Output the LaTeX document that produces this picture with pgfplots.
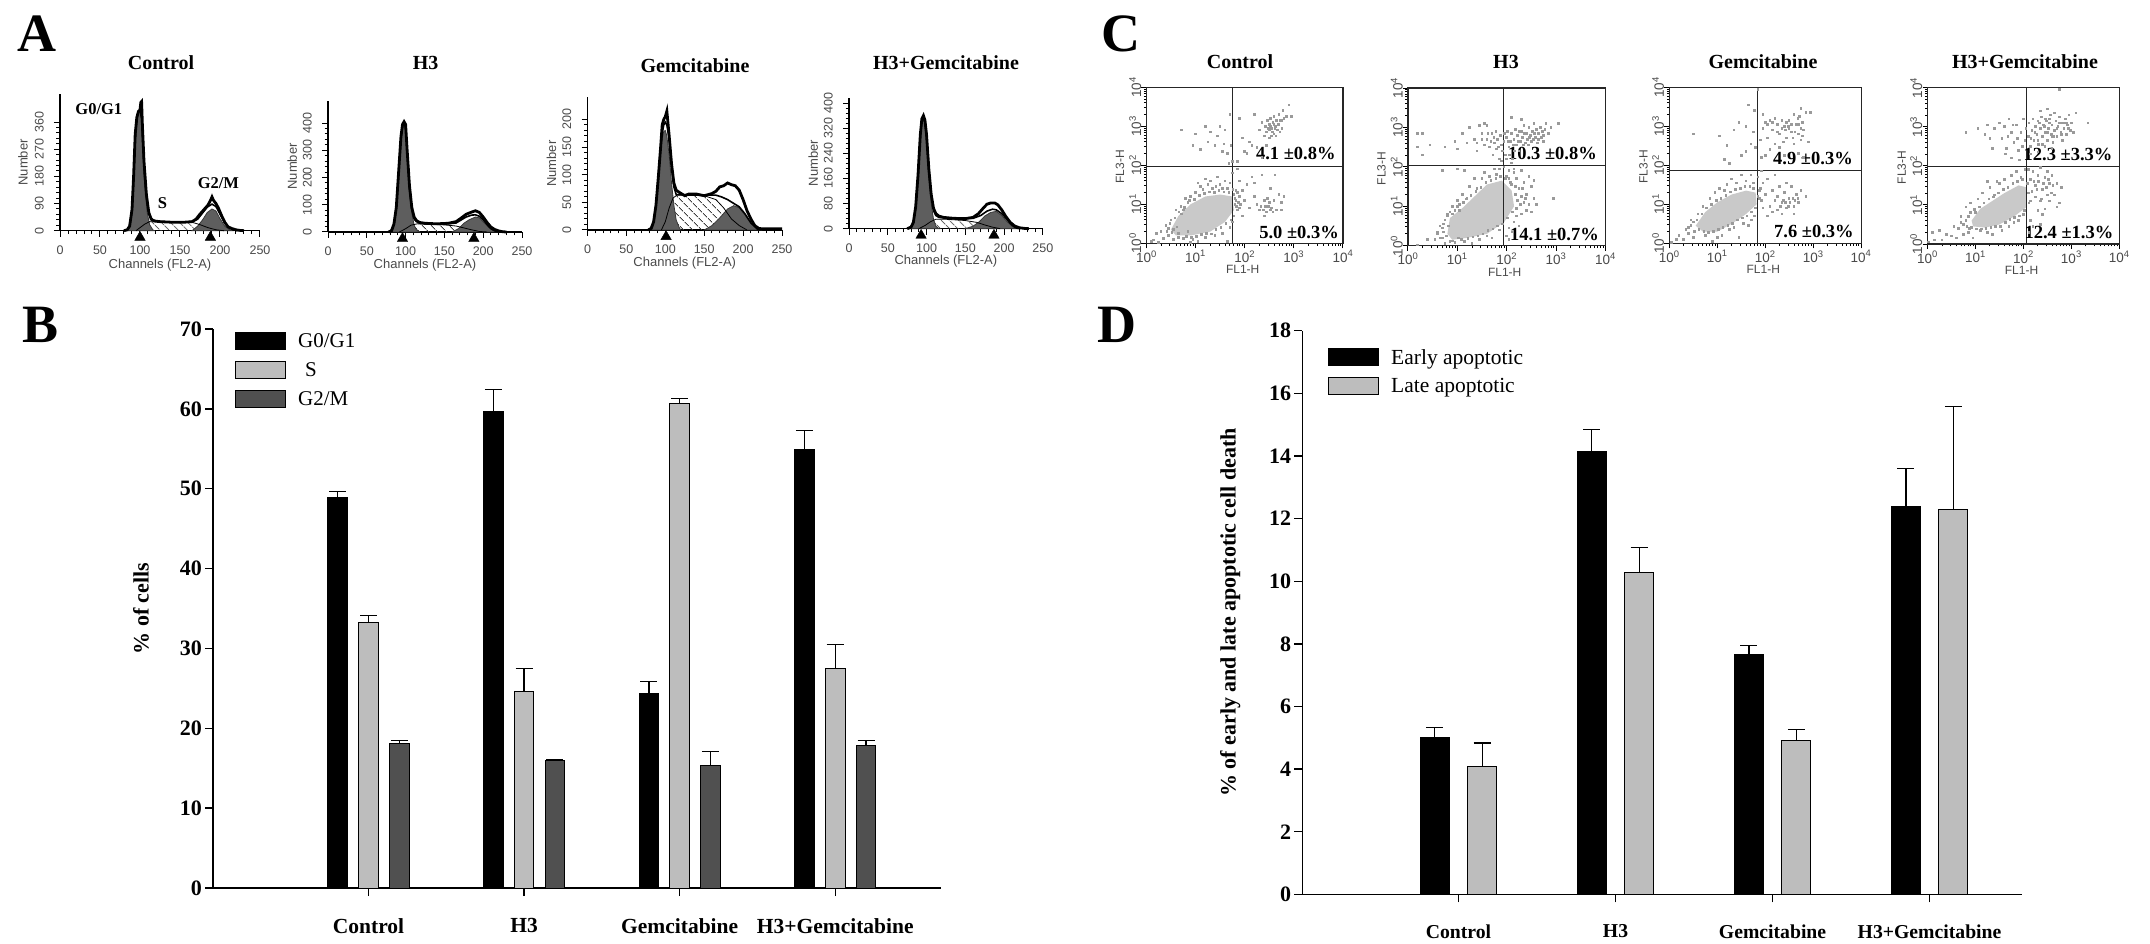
\documentclass[border=0pt]{standalone}
\usepackage{pgfplots}
\usepackage{pgfplotstable}
\pgfplotsset{compat=1.18}
\usepackage{fontspec}
\usetikzlibrary{patterns.meta}
\setmainfont{Liberation Serif}
\newfontfamily\sansf{Liberation Sans}
\newcommand\fs[1]{\fontsize{#1}{#1}\selectfont}
\definecolor{hfill}{HTML}{5E5E5E}
\definecolor{lab}{HTML}{4A4A4A}
\definecolor{barS}{HTML}{BDBDBD}
\definecolor{barG}{HTML}{505050}
\definecolor{dots}{HTML}{9A9A9A}
\definecolor{cloud}{HTML}{C9C9C9}

\pgfplotstableread{
x g1 g1e s se g2 g2e
1 48.86 0.79 33.3 0.85 18.1 0.35
2 59.7 2.75 24.6 2.9 16.0 0.1
3 24.3 1.55 60.65 0.65 15.3 1.8
4 54.9 2.4 27.45 3.0 17.8 0.7
}\tabB
\pgfplotstableread{
x e ee l le
1 5.02 0.32 4.07 0.76
2 14.13 0.71 10.29 0.79
3 7.66 0.29 4.93 0.33
4 12.38 1.22 12.28 3.29
}\tabD

\pgfplotsset{
 swatch/.style={legend image code/.code={\draw[##1] (0pt,-8.5pt) rectangle (50pt,8.5pt);}},
 barfig/.style={
  scale only axis, ymin=0, axis lines=left, axis line style={-,line width=1.3pt},
  tick align=outside, major tick length=8pt, tick style={line width=1.3pt,black},
  xtick={1,2,3,4}, xticklabels={Control,H3,Gemcitabine,H3+Gemcitabine},
  /pgf/number format/assume math mode=true,
  yticklabel style={font=\bfseries\fs{22},inner sep=0pt,xshift=-3pt},
  ybar, clip=false,
  legend cell align=left,
 },
 ebar/.style={error bars/.cd, y dir=plus, y explicit, error bar style={line width=1.3pt,black}, error mark options={line width=1.3pt,black,mark size=8.5pt,rotate=90}},
 histA/.style={
  scale only axis, xmin=0, xmax=250, ymin=0, axis lines=left, axis line style={-,line width=1.2pt},
  tick align=outside, major tick length=6pt, minor tick length=3.5pt, tick style={line width=1pt,black},
  xtick={0,50,...,250}, minor x tick num=4, minor y tick num=4, clip=false,
  /pgf/number format/assume math mode=true,
  ticklabel style={font=\sansf\fs{12.5},text=lab},
  xticklabel style={inner sep=0pt,yshift=-9pt},
  yticklabel style={rotate=90,anchor=south,inner sep=0pt,yshift=10pt},
  every axis x label/.style={at={(axis description cs:0.5,-0.25)},anchor=center},
  every axis y label/.style={at={(axis description cs:-0.185,0.5)},anchor=center,rotate=90},
  label style={font=\sansf\fs{13},text=lab},
  xlabel={Channels (FL2-A)}, ylabel={Number},
 },
 gG/.style={fill=hfill,draw=hfill!60!black,line width=0.8pt},
 gS/.style={pattern={Lines[angle=-45,distance=6.5pt,line width=1pt,xshift=1pt]},pattern color=black!75,draw=none},
 gL/.style={black,line width=0.8pt,no markers},
 gD/.style={black,line width=2.8pt,no markers},
 gF/.style={black,line width=1.6pt,no markers},
 flowC/.style={
  scale only axis, xmin=0,xmax=4,ymin=0,ymax=4, axis line style={line width=1.2pt,black!85},
  xtick pos=bottom, ytick pos=left, tick align=outside,
  major tick length=5pt, minor tick length=2.5pt, tick style={line width=0.9pt,black},
  xtick={0,1,2,3,4}, ytick={0,1,2,3,4},
  xticklabels={10\textsuperscript{0},10\textsuperscript{1},10\textsuperscript{2},10\textsuperscript{3},10\textsuperscript{4}},
  yticklabels={10\textsuperscript{0},10\textsuperscript{1},10\textsuperscript{2},10\textsuperscript{3},10\textsuperscript{4}},
  minor xtick={.301,.477,.602,.699,.778,.845,.903,.954,1.301,1.477,1.602,1.699,1.778,1.845,1.903,1.954,2.301,2.477,2.602,2.699,2.778,2.845,2.903,2.954,3.301,3.477,3.602,3.699,3.778,3.845,3.903,3.954},
  minor ytick={.301,.477,.602,.699,.778,.845,.903,.954,1.301,1.477,1.602,1.699,1.778,1.845,1.903,1.954,2.301,2.477,2.602,2.699,2.778,2.845,2.903,2.954,3.301,3.477,3.602,3.699,3.778,3.845,3.903,3.954},
  ticklabel style={font=\sansf\fs{13.5},text=lab},
  xticklabel style={inner sep=0pt,yshift=-2pt},
  yticklabel style={rotate=90,anchor=south,inner sep=0pt},
  every axis x label/.style={at={(axis description cs:0.49,-0.168)},anchor=center},
  every axis y label/.style={at={(axis description cs:-0.134,0.49)},anchor=center,rotate=90},
  label style={font=\sansf\fs{12},text=lab},
  xlabel={FL1-H}, ylabel={FL3-H},
 },
 cl/.style={fill=cloud,draw=none,no markers},
 pts/.style={only marks,color=dots,mark=square*,mark size=0.8pt,mark options={draw=dots,fill=dots,line width=0pt}},
 gate/.style={black!85,line width=1.1pt,no markers},
}
\newcommand\tnote[3]{\node[anchor=east,inner sep=0pt,font=\bfseries\fs{18.5}] at (axis cs:#1,#2) {#3};}

\begin{document}
\begin{tikzpicture}[x=1pt,y=1pt]
\fill[white,use as bounding box] (0,0) rectangle (2150,943);

% panel letters
\foreach \l/\x/\y in {A/17/891,B/22/600,C/1101/891,D/1097/600}{
 \node[anchor=base west,inner sep=0pt,font=\bfseries\fs{54}] at (\x,\y) {\l};
}
% titles
\foreach \t/\x/\y in {Control/161/880,H3/425.7/880,Gemcitabine/695/877.5,H3+Gemcitabine/946/880,Control/1240/881,H3/1506/881,Gemcitabine/1763/881,H3+Gemcitabine/2025/881}{
 \node[anchor=center,inner sep=0pt,font=\bfseries\fs{20}] at (\x,\y) {\t};
}

% ---------- A
\begin{axis}[histA,at={(60pt,712.3pt)},width=200pt,height=136.4pt,ymax=452,ytick={0,90,180,270,360}]
\addplot[gS] coordinates {(95,0)(100,10)(106,22)(112,30)(165,28)(175,20)(185,10)(195,3)(205,0)} \closedcycle;
\addplot[gG] coordinates {(83,0)(87,13)(90,62)(92,170)(94,305)(96,372)(98,395)(100,398)(102,370)(104,255)(106,150)(109,60)(112,20)(116,3)(118,0)} \closedcycle;
\addplot[gG] coordinates {(165,0)(172,15)(178,35)(184,60)(190,72)(195,65)(200,40)(206,15)(212,3)(215,0)} \closedcycle;
\addplot[gL] coordinates {(95,0)(100,10)(106,22)(112,30)(165,28)(175,20)(185,10)(195,3)(205,0)};
\addplot[gF] coordinates {(80,0)(84,3)(87,14)(90,65)(92,170)(94,305)(96,372)(98,395)(100,398)(102,372)(104,265)(106,170)(109,90)(112,50)(116,35)(125,30)(150,28)(165,30)(172,38)(178,58)(184,78)(190,88)(195,80)(200,55)(206,25)(212,8)(218,2)(222,0)};
\addplot[gD] coordinates {(80,0)(84,3)(87,15)(90,70)(92,180)(94,320)(96,375)(98,395)(100,400)(101,425)(102,428)(103,350)(105,230)(108,120)(111,60)(114,38)(118,32)(125,30)(140,28)(155,28)(165,30)(170,38)(175,55)(180,70)(185,85)(188,100)(190,112)(192,100)(195,90)(198,75)(202,50)(206,28)(210,13)(215,7)(220,3)(225,1)(230,0)};
\addplot[only marks,mark=triangle*,mark size=6pt,black] coordinates {(100,-22)(188,-22)};
\node[font=\bfseries\fs{16.5},inner sep=0pt] at (axis cs:48.5,403) {G0/G1};
\node[font=\bfseries\fs{16.5},inner sep=0pt] at (axis cs:128,91) {S};
\node[font=\bfseries\fs{16.5},inner sep=0pt] at (axis cs:198,158) {G2/M};
\end{axis}

\begin{axis}[histA,at={(328pt,711pt)},width=194pt,height=131pt,ymax=481,ytick={0,100,200,300,400}]
\addplot[gS] coordinates {(92,0)(100,12)(107,25)(115,30)(150,26)(165,22)(175,15)(185,8)(195,2)(205,0)} \closedcycle;
\addplot[gG] coordinates {(80,0)(85,25)(88,85)(91,210)(94,340)(96,380)(98,390)(100,375)(102,285)(105,150)(108,70)(111,25)(114,8)(118,0)} \closedcycle;
\addplot[gG] coordinates {(160,0)(168,12)(175,32)(182,45)(190,55)(195,52)(200,38)(206,20)(212,7)(218,0)} \closedcycle;
\addplot[gL] coordinates {(92,0)(100,12)(107,25)(115,30)(150,26)(165,22)(175,15)(185,8)(195,2)(205,0)};
\addplot[gF] coordinates {(80,0)(85,26)(88,88)(91,215)(94,345)(96,388)(98,398)(100,385)(102,295)(105,160)(108,85)(111,48)(114,38)(125,30)(150,29)(165,33)(172,45)(178,55)(185,62)(190,63)(195,58)(200,45)(205,27)(210,12)(215,4)(220,0)};
\addplot[gD] coordinates {(78,0)(82,5)(85,30)(88,90)(91,220)(94,350)(96,395)(98,405)(100,395)(102,300)(105,170)(108,90)(111,55)(114,42)(118,35)(125,32)(140,30)(155,32)(165,38)(172,52)(178,65)(185,73)(190,78)(195,72)(200,55)(205,35)(210,18)(215,9)(220,4)(225,1)(230,0)};
\addplot[only marks,mark=triangle*,mark size=6pt,black] coordinates {(96,-24)(188,-24)};
\end{axis}

\begin{axis}[histA,at={(587.5pt,713pt)},width=194.5pt,height=132.7pt,ymax=240,ytick={0,50,100,150,200}]
\addplot[gS] coordinates {(95,0)(100,15)(105,40)(110,58)(115,63)(150,62)(165,55)(175,40)(185,20)(195,8)(205,0)} \closedcycle;
\addplot[gG] coordinates {(80,0)(85,14)(88,42)(91,90)(94,140)(96,165)(98,178)(100,180)(102,170)(105,135)(108,85)(111,45)(114,18)(118,4)(120,0)} \closedcycle;
\addplot[gG] coordinates {(150,0)(160,8)(170,22)(180,38)(188,44)(195,40)(202,28)(210,12)(218,2)(222,0)} \closedcycle;
\addplot[gL] coordinates {(95,0)(100,15)(105,40)(110,58)(115,63)(150,62)(165,55)(175,40)(185,20)(195,8)(205,0)};
\addplot[gF] coordinates {(80,0)(85,15)(88,45)(91,95)(94,150)(96,175)(98,190)(100,195)(102,190)(105,165)(108,115)(111,78)(114,64)(125,64)(150,63)(165,63)(172,60)(180,55)(188,48)(195,42)(202,30)(210,13)(218,2)(222,0)};
\addplot[gD] coordinates {(78,0)(82,3)(85,15)(88,45)(91,95)(94,150)(96,190)(98,200)(100,205)(102,215)(103,200)(105,170)(108,120)(111,85)(114,72)(118,68)(125,62)(130,65)(140,65)(150,62)(160,66)(165,70)(170,78)(175,80)(180,85)(185,82)(190,80)(195,72)(200,55)(205,35)(210,20)(215,8)(220,3)(225,2)(240,2)(250,2)};
\addplot[only marks,mark=triangle*,mark size=6pt,black] coordinates {(101,-12)};
\end{axis}

\begin{axis}[histA,at={(849pt,714.3pt)},width=193.8pt,height=131pt,ymax=417,ytick={0,80,160,240,320,400}]
\addplot[gS] coordinates {(90,0)(98,10)(105,22)(112,30)(125,30)(150,26)(165,20)(175,12)(185,5)(195,0)} \closedcycle;
\addplot[gG] coordinates {(78,0)(83,18)(86,65)(89,160)(92,285)(94,340)(96,350)(98,330)(100,280)(103,165)(106,80)(109,30)(112,8)(116,0)} \closedcycle;
\addplot[gG] coordinates {(150,0)(160,8)(168,22)(175,40)(183,52)(190,55)(197,42)(203,25)(210,8)(216,0)} \closedcycle;
\addplot[gL] coordinates {(90,0)(98,10)(105,22)(112,30)(125,30)(150,26)(165,20)(175,12)(185,5)(195,0)};
\addplot[gF] coordinates {(78,0)(83,19)(86,67)(89,165)(92,295)(94,348)(96,358)(98,342)(100,295)(103,185)(106,105)(109,58)(112,42)(116,36)(130,33)(160,33)(170,42)(178,56)(185,62)(190,60)(197,48)(203,32)(210,12)(216,2)(220,0)};
\addplot[gD] coordinates {(75,0)(80,5)(83,20)(86,70)(89,170)(92,300)(94,350)(96,360)(98,345)(100,300)(103,190)(106,110)(109,65)(112,48)(116,40)(122,36)(135,33)(150,32)(160,36)(167,48)(173,65)(178,78)(183,82)(188,82)(192,76)(197,60)(202,40)(208,20)(214,8)(220,3)(226,1)(232,0)};
\addplot[only marks,mark=triangle*,mark size=6pt,black] coordinates {(93,-21)(187,-21)};
\end{axis}

% ---------- B
\begin{axis}[barfig,at={(213pt,55pt)},width=728pt,height=559pt,xmin=0,xmax=4.68,ymax=70,ytick={0,10,...,70},
  bar width=19.6pt,
  xticklabel style={font=\bfseries\fs{21.5},inner sep=0pt,yshift=-22pt},
  every axis y label/.style={at={(axis description cs:-0.0989,0.5)},anchor=center,rotate=90},
  ylabel={\bfseries\fs{22}\% of cells},
  legend style={at={(axis description cs:0.0302,0.9946)},anchor=north west,draw=none,fill=none,inner sep=0pt,row sep=11pt,font=\fs{21},nodes={inner sep=0pt}},
  ]
\addplot[swatch,bar shift=-30.8pt,fill=black,draw=black,line width=1pt,ebar] table[x=x,y=g1,y error=g1e] {\tabB};
\addlegendentry{\hspace*{12pt}G0/G1}
\addplot[swatch,bar shift=0pt,fill=barS,draw=black,line width=1pt,ebar] table[x=x,y=s,y error=se] {\tabB};
\addlegendentry{\hspace*{19pt}S}
\addplot[swatch,bar shift=30.8pt,fill=barG,draw=black,line width=1pt,ebar] table[x=x,y=g2,y error=g2e] {\tabB};
\addlegendentry{\hspace*{12pt}G2/M}
\end{axis}

% ---------- D
\begin{axis}[barfig,at={(1302.3pt,48.6pt)},width=719.4pt,height=563.7pt,xmin=0.005,xmax=4.587,ymax=18,ytick={0,2,...,18},
  bar width=29pt,
  xticklabel style={font=\bfseries\fs{19.7},inner sep=0pt,yshift=-22pt},
  every axis y label/.style={at={(axis description cs:-0.1,0.5)},anchor=center,rotate=90},
  ylabel={\bfseries\fs{22}\% of early and late apoptotic cell death},
  legend style={at={(axis description cs:0.0357,0.969)},anchor=north west,draw=none,fill=none,inner sep=0pt,row sep=11pt,font=\fs{21.5},nodes={inner sep=0pt}},
  ]
\addplot[swatch,bar shift=-23.7pt,fill=black,draw=black,line width=1pt,ebar] table[x=x,y=e,y error=ee] {\tabD};
\addlegendentry{\hspace*{12pt}Early apoptotic}
\addplot[swatch,bar shift=23.7pt,fill=barS,draw=black,line width=1pt,ebar] table[x=x,y=l,y error=le] {\tabD};
\addlegendentry{\hspace*{12pt}Late apoptotic}
\end{axis}

% ---------- C
\begin{axis}[flowC,at={(1146.4pt,699.7pt)},width=196.5pt,height=156pt]
\addplot[cl] coordinates {(.5,.35)(.65,.7)(.9,1.0)(1.2,1.2)(1.5,1.25)(1.75,1.2)(1.78,.85)(1.6,.55)(1.3,.3)(.9,.2)(.6,.2)} --cycle;
\addplot[pts] coordinates {(2.3,2.9)(2.35,3.1)(2.4,2.75)(2.42,3.0)(2.45,2.85)(2.5,3.05)(2.5,2.7)(2.52,3.2)(2.55,2.95)(2.58,3.1)(2.6,2.8)(2.6,3.25)(2.63,3.0)(2.65,3.15)(2.67,2.9)(2.7,3.3)(2.7,3.05)(2.72,2.85)(2.75,3.15)(2.78,3.4)(2.8,3.2)(2.85,3.25)(2.9,3.55)(2.95,3.25)(2.2,3.3)(2.1,2.6)(2.0,2.35)(1.9,3.2)(1.95,2.7)(2.05,2.3)(2.15,2.5)(2.25,2.45)(1.85,2.1)(2.35,2.2)(2.45,2.5)
(.95,2.5)(1.0,2.8)(1.1,2.4)(1.2,3.0)(1.25,2.6)(1.3,2.85)(1.4,2.5)(1.45,2.75)(1.5,3.0)(1.55,2.35)(1.6,2.9)(1.65,2.3)(1.7,3.3)(1.72,2.5)(1.75,2.1)(1.68,2.05)(.72,2.9)(1.58,2.55)
(1.85,1.9)(1.9,1.6)(1.95,1.35)(2.0,1.1)(2.05,1.5)(2.1,.9)(2.15,1.7)(2.2,1.2)(2.25,1.0)(2.3,.85)(2.35,1.75)(2.4,1.1)(2.42,.95)(2.45,.8)(2.5,1.05)(2.52,1.4)(2.55,.9)(2.6,1.1)(2.62,1.75)(2.65,.85)(2.7,1.25)(2.75,1.05)(2.8,1.2)(2.75,.85)(1.82,1.1)(1.85,.85)(1.9,.9)(1.95,.7)(1.85,1.3)(2.4,.7)(2.2,1.55)
(.1,.05)(.15,.08)(.25,.02)(.3,.3)(.35,.12)(.4,.45)(.45,.2)(.55,.1)(.5,.6)(.6,.85)(.7,.95)(.75,.12)(.8,1.15)(.85,1.05)(.95,.1)(1.0,1.3)(1.05,.05)(1.1,1.45)(1.2,.15)(1.25,1.5)(1.3,1.6)(1.35,1.4)(1.4,.2)(1.45,1.7)(1.5,1.5)(1.55,.25)(1.6,1.6)(1.65,.05)(1.65,1.4)(1.7,1.55)(1.75,1.8)(1.7,.4)(1.75,.55)(1.2,1.65)(1.05,1.55)(.9,1.2)(.65,.15)(.2,.25)(.9,.02)(1.82,1.35)(1.78,1.25)(1.8,1.0)
(.42,.3)(.48,.5)(.52,.28)(.58,.65)(.62,.42)(.66,.8)(.72,.75)(.78,.92)(.82,.18)(.88,1.1)(.92,.15)(.98,1.12)(1.02,.18)(1.08,1.22)(1.12,.22)(1.18,1.28)(1.22,.25)(1.28,1.32)(1.32,.24)(1.38,1.3)(1.42,.35)(1.48,1.35)(1.52,.4)(1.58,1.32)(1.62,.5)(1.68,1.3)(1.72,.6)(1.76,1.38)(1.78,.7)(1.8,1.15)(1.83,.95)(1.87,1.05)(1.9,1.2)(1.92,1.0)(1.55,1.4)(1.42,1.45)(1.15,1.38)(.75,.85)(.55,.35)(.45,.38)(.65,.25)(.85,.3)
(2.48,2.95)(2.53,3.0)(2.57,2.85)(2.62,2.95)(2.68,3.05)(2.64,2.75)(2.55,2.75)(2.47,3.15)(2.72,3.15)(2.6,3.05)(2.76,2.95)(2.5,2.9)(2.33,.95)(2.38,.85)(2.48,.95)(2.52,.85)(2.58,.8)(2.47,1.15)};
\addplot[gate] coordinates {(1.76,0)(1.76,4)};
\addplot[gate] coordinates {(0,1.98)(4,1.98)};
\tnote{3.855}{2.31}{4.1 ±0.8\%}
\tnote{3.92}{.28}{5.0 ±0.3\%}
\end{axis}

\begin{axis}[flowC,at={(1407.9pt,697.3pt)},width=197.5pt,height=157.7pt]
\addplot[cl] coordinates {(.8,.3)(.85,.7)(1.1,.95)(1.35,1.25)(1.6,1.55)(1.9,1.65)(2.1,1.4)(2.15,1.0)(1.95,.6)(1.6,.3)(1.2,.2)(.9,.15)} --cycle;
\addplot[pts] coordinates {(1.6,2.7)(1.65,2.5)(1.7,2.85)(1.72,2.3)(1.75,2.6)(1.78,2.9)(1.8,2.45)(1.82,2.7)(1.85,2.2)(1.88,2.8)(1.9,2.55)(1.95,2.65)(1.98,2.3)(2.0,2.75)(2.02,2.9)(2.05,2.5)(2.08,2.65)(2.1,2.85)(2.12,2.2)(2.15,2.7)(2.18,2.95)(2.2,2.55)(2.22,2.8)(2.25,2.4)(2.28,2.65)(2.3,2.9)(2.32,2.75)(2.35,3.05)(2.38,2.6)(2.4,2.85)(2.42,2.7)(2.45,3.0)(2.48,2.8)(2.5,2.65)(2.52,2.9)(2.55,3.1)(2.58,2.75)(2.6,2.95)(2.62,2.6)(2.65,2.85)(2.68,3.0)(2.7,2.75)(2.72,2.9)(2.75,2.65)(2.78,2.95)(2.8,3.1)(2.85,2.85)(2.9,3.0)(3.05,3.1)(2.3,3.2)(2.1,3.25)
(.2,2.85)(.3,2.85)(.2,2.5)(.3,2.3)(.45,2.55)(.75,2.5)(.95,2.65)(1.0,2.45)(1.1,2.85)(1.2,2.6)(1.25,3.0)(1.35,2.7)(1.4,2.4)(1.45,3.05)(1.5,2.85)(1.55,3.1)(1.6,3.05)
(1.95,2.0)(2.0,1.75)(2.05,1.9)(2.1,1.55)(2.15,1.85)(2.2,1.7)(2.25,1.45)(2.3,1.9)(2.35,1.6)(2.4,1.3)(2.45,1.75)(2.5,1.5)(2.55,1.2)(2.45,1.05)(2.4,.9)(2.35,1.1)(2.3,.8)(2.2,.75)(2.25,.5)(2.3,1.25)(2.15,.6)(2.12,.35)(2.5,.85)(2.6,1.05)(2.95,1.2)(2.55,1.65)(2.05,.45)(2.0,.25)(2.05,.15)
(.2,.02)(.4,.15)(.55,.15)(.6,.35)(.7,.2)(.72,.55)(.75,.05)(.8,.8)(.85,.1)(.9,1.0)(.95,.08)(1.0,1.15)(1.05,.9)(1.1,1.3)(1.15,.1)(1.2,1.2)(1.25,1.5)(1.3,.05)(1.35,1.7)(1.4,1.45)(1.45,.15)(1.5,1.7)(1.55,1.85)(1.6,.25)(1.65,1.75)(1.7,.2)(1.75,1.95)(1.8,1.8)(1.85,.4)(.7,1.9)(1.0,1.95)(1.15,1.9)
(.6,.3)(.65,.5)(.7,.45)(.72,.35)(.75,.65)(.78,.25)(.8,.75)(.82,.5)(.85,.85)(.9,.8)(.95,.9)(1.0,1.0)(1.02,.2)(1.05,1.05)(1.08,.15)(1.12,1.1)(1.18,1.18)(1.22,.18)(1.28,1.28)(1.32,.22)(1.38,1.38)(1.42,.25)(1.48,1.48)(1.52,.3)(1.58,1.6)(1.62,.38)(1.68,1.65)(1.72,.42)(1.78,1.7)(1.82,.5)(1.88,1.75)(1.92,.55)(1.98,1.7)(2.02,.7)(2.08,1.6)(2.12,.85)(2.18,1.3)(2.22,1.15)(2.28,1.05)(2.32,1.45)(2.18,1.5)(2.38,1.2)(2.2,.95)(.65,.2)(.9,.12)
(1.4,2.6)(1.5,2.7)(1.55,2.55)(1.62,2.85)(1.68,2.65)(1.74,2.75)(1.84,2.5)(1.92,2.4)(1.96,2.85)(2.04,2.65)(2.14,2.55)(2.24,2.65)(2.34,2.55)(2.44,2.55)(2.46,2.75)(2.54,2.7)(2.56,2.85)(2.64,2.7)(2.74,2.8)(2.36,2.85)(2.26,2.9)(2.16,2.4)(2.06,2.3)(1.9,2.15)(2.0,2.2)(1.85,1.95)(2.1,2.1)(2.15,1.95)(2.05,1.7)};
\addplot[gate] coordinates {(1.93,0)(1.93,4)};
\addplot[gate] coordinates {(0,2.03)(4,2.03)};
\tnote{3.83}{2.34}{10.3 ±0.8\%}
\tnote{3.87}{.29}{14.1 ±0.7\%}
\end{axis}

\begin{axis}[flowC,at={(1669.3pt,699.7pt)},width=191.8pt,height=156pt]
\addplot[cl] coordinates {(.55,.45)(.75,.8)(1.0,1.05)(1.3,1.25)(1.6,1.35)(1.8,1.3)(1.82,1.0)(1.6,.75)(1.3,.5)(1.0,.3)(.7,.3)} --cycle;
\addplot[pts] coordinates {(1.95,2.95)(2.0,3.1)(2.05,2.7)(2.1,3.15)(2.15,2.9)(2.2,3.2)(2.25,3.05)(2.3,2.8)(2.35,3.15)(2.4,3.0)(2.45,2.7)(2.5,3.15)(2.55,2.85)(2.6,3.3)(2.65,3.05)(2.7,2.8)(2.72,3.25)(2.75,3.45)(2.78,3.1)(2.8,2.9)(2.85,3.35)(2.9,2.6)(2.95,3.35)(2.48,3.0)(2.38,2.6)(2.3,2.45)(2.2,2.55)(2.1,2.4)(2.0,2.25)(1.9,2.65)(1.92,2.2)(2.6,2.55)(2.7,2.3)(2.75,2.65)(2.8,2.2)(2.4,2.25)(1.95,3.3)
(.5,2.8)(1.05,2.75)(1.2,2.5)(1.35,2.9)(1.45,3.1)(1.6,3.0)(1.65,3.55)(1.7,2.55)(1.78,3.4)(1.75,2.85)(1.5,2.25)(1.15,2.15)(1.25,2.05)(1.6,2.35)(1.8,2.45)(1.85,3.95)
(1.85,1.7)(1.9,1.4)(1.95,1.55)(2.0,1.25)(2.05,1.65)(2.1,.95)(2.15,1.35)(2.2,1.1)(2.25,.85)(2.3,1.45)(2.35,1.05)(2.4,1.3)(2.45,.9)(2.5,1.15)(2.55,1.45)(2.6,.95)(2.65,1.25)(2.7,1.05)(2.75,1.35)(2.6,.75)(2.35,.75)(2.05,.7)(1.95,.9)(1.88,1.15)(1.92,1.85)(2.85,1.2)(2.45,1.55)(2.2,1.75)
(.05,.02)(.15,.1)(.2,.2)(.3,.1)(.35,.35)(.4,.25)(.45,.6)(.5,.15)(.6,.75)(.7,.95)(.75,.2)(.85,1.15)(.95,1.3)(1.0,.15)(1.05,1.4)(1.1,.2)(1.2,1.5)(1.25,.35)(1.3,1.65)(1.35,.4)(1.4,1.55)(1.45,.15)(1.5,1.75)(1.55,.5)(1.6,1.6)(1.65,.45)(1.7,1.75)(1.72,.6)(1.75,1.55)(1.78,.7)(1.15,1.35)(.9,.05)
(.4,.4)(.45,.45)(.5,.55)(.52,.3)(.58,.6)(.62,.35)(.68,.75)(.72,.3)(.78,.9)(.82,.28)(.88,1.0)(.92,.3)(.98,1.1)(1.02,.35)(1.08,1.15)(1.12,.4)(1.18,1.22)(1.22,.45)(1.28,1.32)(1.32,.5)(1.38,1.38)(1.42,.6)(1.48,1.4)(1.52,.65)(1.58,1.45)(1.62,.7)(1.68,1.45)(1.72,.8)(1.76,1.4)(1.8,.9)(1.85,1.2)(1.88,1.35)(1.92,1.1)
(2.42,2.9)(2.5,2.95)(2.55,3.05)(2.62,2.85)(2.68,3.2)(2.7,3.05)(2.75,2.95)(2.78,2.75)(2.58,2.7)(2.45,3.1)(2.35,2.95)(2.25,2.85)(2.15,3.1)(2.05,3.05)(2.42,1.05)(2.48,.95)(2.52,1.05)(2.58,1.15)(2.62,1.1)(2.68,1.15)(2.38,1.1)(2.32,.95)(2.25,1.2)(2.15,.8)};
\addplot[gate] coordinates {(1.83,0)(1.83,4)};
\addplot[gate] coordinates {(0,1.87)(4,1.87)};
\tnote{3.83}{2.18}{4.9 ±0.3\%}
\tnote{3.85}{.30}{7.6 ±0.3\%}
\end{axis}

\begin{axis}[flowC,at={(1927.5pt,699pt)},width=191.8pt,height=156.3pt]
\addplot[cl] coordinates {(.92,.6)(1.1,.9)(1.35,1.1)(1.6,1.3)(1.9,1.5)(2.07,1.45)(2.07,.95)(1.8,.7)(1.5,.5)(1.2,.42)(.95,.45)} --cycle;
\addplot[pts] coordinates {(2.1,2.75)(2.12,3.1)(2.15,2.5)(2.18,2.9)(2.2,3.2)(2.22,2.65)(2.25,3.0)(2.28,2.8)(2.3,3.15)(2.32,2.55)(2.35,2.95)(2.38,3.25)(2.4,2.75)(2.42,3.05)(2.45,2.85)(2.48,3.15)(2.5,2.65)(2.52,2.95)(2.55,3.2)(2.58,2.8)(2.6,3.05)(2.62,2.6)(2.65,2.9)(2.68,3.15)(2.7,2.75)(2.72,3.0)(2.75,3.25)(2.78,2.85)(2.8,3.1)(2.82,2.65)(2.85,2.95)(2.88,3.2)(2.9,2.8)(2.92,3.05)(2.95,3.3)(2.98,2.9)(3.0,3.1)(3.05,2.85)(3.1,3.35)(3.35,3.1)(2.75,3.95)(2.35,3.4)(2.5,3.45)(2.65,3.35)(2.45,2.5)(2.6,2.45)(2.3,2.35)(2.15,2.3)
(.8,2.85)(1.05,2.95)(1.2,2.8)(1.25,3.05)(1.3,2.7)(1.35,2.45)(1.4,2.95)(1.5,3.1)(1.55,2.7)(1.6,3.0)(1.65,2.45)(1.7,3.2)(1.75,2.85)(1.8,2.6)(1.85,3.05)(1.9,2.4)(1.95,2.85)(2.0,3.2)(2.03,2.65)(1.92,2.15)(1.75,2.2)(1.62,2.3)
(2.1,1.9)(2.15,1.65)(2.2,1.85)(2.25,1.5)(2.3,1.75)(2.35,1.95)(2.4,1.4)(2.45,1.7)(2.5,1.85)(2.55,1.55)(2.6,1.75)(2.65,1.25)(2.7,1.55)(2.75,1.05)(2.55,1.1)(2.45,.9)(2.5,1.25)(2.35,1.1)(2.3,.85)(2.25,1.2)(2.15,.6)(2.2,.45)(2.35,.5)(2.8,1.45)(2.7,.95)(2.15,1.1)(2.12,.3)(2.4,.75)
(.02,.05)(.1,.3)(.15,.1)(.25,.35)(.3,.1)(.4,.25)(.5,.2)(.55,.45)(.6,.15)(.65,.4)(.7,.7)(.75,.25)(.8,.95)(.85,.3)(.9,1.05)(.95,.15)(1.0,.8)(1.05,1.15)(1.1,.35)(1.15,1.3)(1.25,.3)(1.3,1.45)(1.35,.25)(1.4,1.25)(1.45,1.6)(1.55,.35)(1.6,1.65)(1.7,.45)(1.75,1.75)(1.8,.55)(1.85,1.85)(1.9,.6)(1.95,1.7)(2.0,.75)(2.03,1.9)(1.5,1.55)(1.25,1.6)
(.7,.55)(.75,.5)(.8,.6)(.82,.45)(.85,.7)(.88,.4)(.9,.8)(.92,.42)(.98,.88)(1.02,.38)(1.08,.95)(1.12,.38)(1.18,1.05)(1.22,.4)(1.28,1.15)(1.32,.42)(1.38,1.2)(1.42,.45)(1.48,1.3)(1.52,.45)(1.58,1.4)(1.62,.55)(1.68,1.45)(1.72,.62)(1.78,1.55)(1.82,.68)(1.88,1.6)(1.92,.72)(1.98,1.65)(2.02,.85)(2.08,1.55)(2.1,1.3)(2.12,1.05)(2.18,1.35)(2.22,1.6)(2.28,1.4)(2.32,1.6)(2.38,1.15)(2.42,1.55)(2.48,1.45)(2.52,1.65)(2.58,1.3)(2.62,1.5)
(2.24,2.85)(2.34,3.1)(2.44,3.0)(2.54,3.1)(2.64,2.75)(2.74,3.1)(2.84,3.1)(2.94,2.95)(2.3,2.65)(2.4,2.55)(2.5,2.85)(2.6,2.75)(2.7,2.95)(2.8,2.8)(2.9,3.1)(2.46,3.2)(2.56,3.3)(2.16,2.7)(1.98,2.5)(1.88,2.7)(1.78,3.05)(1.68,2.75)(2.05,2.95)};
\addplot[gate] coordinates {(2.07,0)(2.07,4)};
\addplot[gate] coordinates {(0,1.98)(4,1.98)};
\tnote{3.86}{2.28}{12.3 ±3.3\%}
\tnote{3.88}{.29}{12.4 ±1.3\%}
\end{axis}
\end{tikzpicture}
\end{document}
